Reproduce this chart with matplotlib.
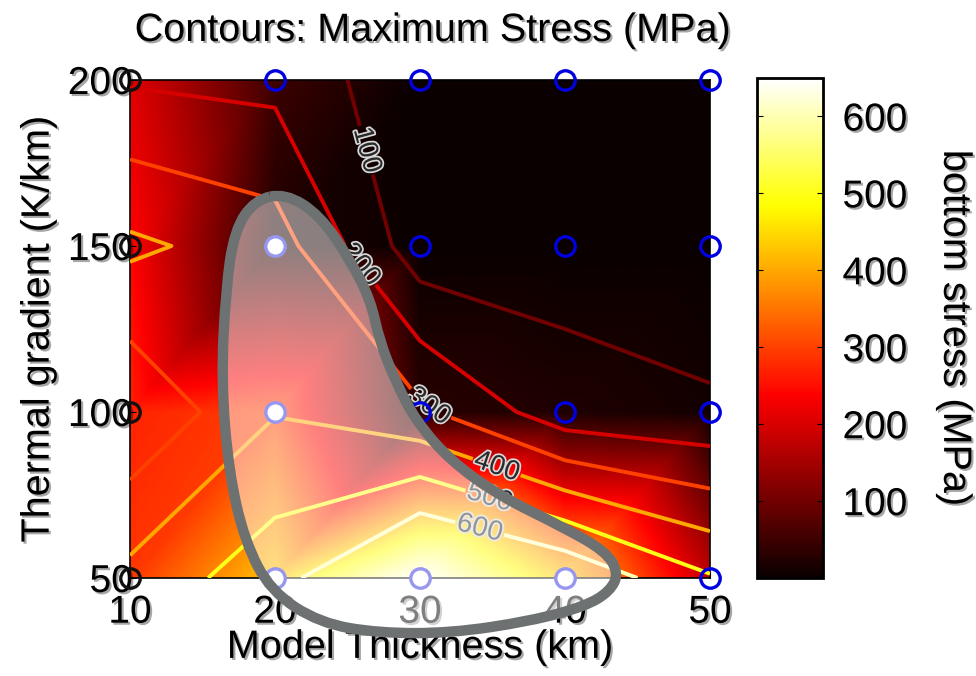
import numpy as np
import matplotlib
matplotlib.use('Agg')
import matplotlib.pyplot as plt
import matplotlib.tri as mtri
import matplotlib.patheffects as pe
from matplotlib.path import Path
from matplotlib.patches import PathPatch

plt.rcParams['font.family'] = ['Liberation Sans', 'DejaVu Sans']

# grid of model runs
thickness = [10, 20, 30, 40, 50]          # km
gradient = [50, 100, 150, 200]            # K/km

# bottom stress (MPa) -> colour shading, rows follow gradient
bottom_stress = [
    [290, 430, 650, 430, 180],
    [270, 300, 30, 20, 10],
    [240, 20, 0, 0, 0],
    [210, 50, 0, 0, 0],
]
# maximum stress (MPa) -> contour lines
max_stress = [
    [430, 560, 780, 690, 510],
    [210, 395, 320, 140, 120],
    [420, 350, 40, 60, 5],
    [190, 170, 30, 0, 0],
]
levels = [100, 200, 300, 400, 500, 600]
label_pos = [(29, 182), (25.8, 144), (31, 104), (35.5, 86), (35, 77), (34, 63)]
cbar_ticks = [100, 200, 300, 400, 500, 600]

# hand drawn highlight around the interesting runs (data coords)
blob_x = [20.7, 23.1, 25.2, 26.6, 27.2, 28.3, 29.7, 32.1, 35.5, 39.7, 42.8, 43.7, 43.1,
          41.4, 37.6, 32.1, 27.2, 23.1, 19.7, 17.9, 16.8, 16.3, 16.6, 17.2, 18.6]
blob_y = [165.9, 159.3, 145.7, 133.6, 121.5, 109.4, 97.4, 85.3, 74.7, 65.7, 58.1, 51.5, 46,
          41.5, 37, 33.4, 33.4, 36.4, 46, 61.2, 82.3, 109.4, 136.6, 154.7, 163.8]

vmin, vmax = 0, 650
shadow = [pe.withSimplePatchShadow(offset=(1.5, -1.5), shadow_rgbFace='k', alpha=0.35)]

X, Y = np.meshgrid(thickness, gradient)
nx, ny = len(thickness), len(gradient)
tris = []
for j in range(ny - 1):
    for i in range(nx - 1):
        k = j * nx + i
        tris.append([k, k + 1, k + nx + 1])
        tris.append([k, k + nx + 1, k + nx])
tri = mtri.Triangulation(X.ravel(), Y.ravel(), tris)

# interpolate in value space (like interp shading), not in rgb space
zb = np.array(bottom_stress, dtype=float).ravel()
refiner = mtri.UniformTriRefiner(tri)
tri_f, zb_f = refiner.refine_field(zb, triinterpolator=mtri.LinearTriInterpolator(tri, zb), subdiv=5)

fig = plt.figure(figsize=(9.76, 6.76), dpi=100)
ax = fig.add_axes([130 / 976, 98 / 676, 580 / 976, 498 / 676])
cax = fig.add_axes([757 / 976, 98 / 676, 66 / 976, 500 / 676])

tpc = ax.tripcolor(tri_f, zb_f, shading='gouraud', cmap='hot', vmin=vmin, vmax=vmax)
cs = ax.contour(X, Y, np.array(max_stress), levels=levels, cmap='hot',
                vmin=vmin, vmax=vmax, linewidths=2.8, zorder=3)
lbls = ax.clabel(cs, fmt='%d', manual=label_pos, fontsize=20, inline=True, inline_spacing=2)
for t in lbls:
    t.set_color('#2a2a2a')
    t.set_path_effects([pe.withStroke(linewidth=2.5, foreground='#d8d8d8')])
    t.set_zorder(4)

# blob outline as closed quadratic spline
pts = np.column_stack([blob_x, blob_y])
mids = (pts + np.roll(pts, -1, axis=0)) / 2
verts = [mids[-1]]
codes = [Path.MOVETO]
for p, m in zip(pts, mids):
    verts += [p, m]
    codes += [Path.CURVE3, Path.CURVE3]
blob_path = Path(verts, codes)

xs, ys = X.ravel(), Y.ravel()
inside = blob_path.contains_points(np.column_stack([xs, ys]), radius=-0.5)
left = xs == thickness[0]
rest = ~inside & ~left
ax.plot(xs[rest], ys[rest], 'o', ms=14, mfc='none', mec='#0000e0', mew=2.4,
        clip_on=False, zorder=5)
ax.plot(xs[left], ys[left], 'o', ms=14, mfc='none', mec='#111111', mew=2.4,
        clip_on=False, zorder=5)
ax.plot(xs[inside], ys[inside], 'o', ms=14, mfc='white', mec='#3030e0', mew=2.4,
        clip_on=False, zorder=5)

ax.add_patch(PathPatch(blob_path, facecolor=(1, 1, 1, 0.5), edgecolor='#6d7171',
                       lw=7.5, clip_on=False, zorder=6))

ax.set_xlim(10, 50)
ax.set_ylim(50, 200)
ax.set_xticks(thickness)
ax.set_yticks(gradient)
ax.tick_params(direction='in', length=4, labelsize=28)
ax.tick_params(axis='x', pad=12)
ax.tick_params(axis='y', pad=-2)
for lab in ax.get_xticklabels() + ax.get_yticklabels():
    lab.set_path_effects(shadow)
for s in ax.spines.values():
    s.set_linewidth(1.2)

ax.set_xlabel('Model Thickness (km)', fontsize=28.5, labelpad=-2, path_effects=shadow)
ax.set_ylabel('Thermal gradient (K/km)', fontsize=28.5, labelpad=8, path_effects=shadow)
fig.text(433 / 976, 1 - 30 / 676, 'Contours: Maximum Stress (MPa)', fontsize=28.5,
         ha='center', va='center', path_effects=shadow)

cb = fig.colorbar(tpc, cax=cax, ticks=cbar_ticks)
cb.outline.set_linewidth(2)
cax.tick_params(direction='in', length=4, labelsize=28, pad=14, left=True, right=True)
for lab in cax.get_yticklabels():
    lab.set_path_effects(shadow)
cb.set_label('bottom stress (MPa)', fontsize=28.5, rotation=-90, labelpad=48, path_effects=shadow)

fig.savefig('out.png', dpi=100)
